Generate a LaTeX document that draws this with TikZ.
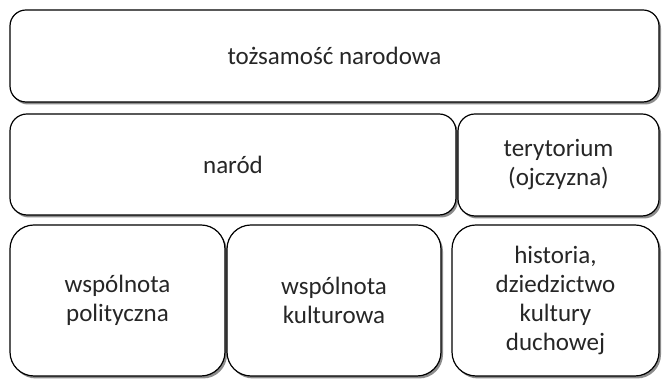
\documentclass[tikz,border=0pt]{standalone}
\usepackage{fontspec}
\setmainfont{Carlito}
\usetikzlibrary{shadows}
\begin{document}
\begin{tikzpicture}[x=1pt,y=1pt,
  box/.style={draw=black, line width=1.2pt, fill=white, rounded corners=#1,
    drop shadow={shadow xshift=2pt, shadow yshift=-2.5pt, fill=black!45, opacity=1}},
  box/.default=16pt,
  lbl/.style={font=\fontsize{25}{29}\selectfont, align=center, text=black!85}]
\useasboundingbox (0,0) rectangle (662,379);
% image y -> 379 - y
\draw[box=16pt] (10,369) rectangle (659,277);
\draw[box=17pt] (10,265) rectangle (456,164);
\draw[box=17pt] (458,265) rectangle (659,163);
\draw[box=24pt] (10,154) rectangle (225,3);
\draw[box=24pt] (227,154) rectangle (441,3);
\draw[box=24pt] (452,154) rectangle (659,3);
\node[lbl] (a) at (334.5,323) {tożsamość narodowa};
\node[lbl] (b) at (233,214.5) {naród};
\node[lbl] (c) at (558.5,214) {terytorium\\(ojczyzna)};
\node[lbl] (d) at (117.5,78.5) {wspólnota\\polityczna};
\node[lbl] (e) at (334,78.5) {wspólnota\\kulturowa};
\node[lbl] (f) at (555.5,78.5) {historia,\\dziedzictwo\\kultury\\duchowej};
\end{tikzpicture}
\end{document}
